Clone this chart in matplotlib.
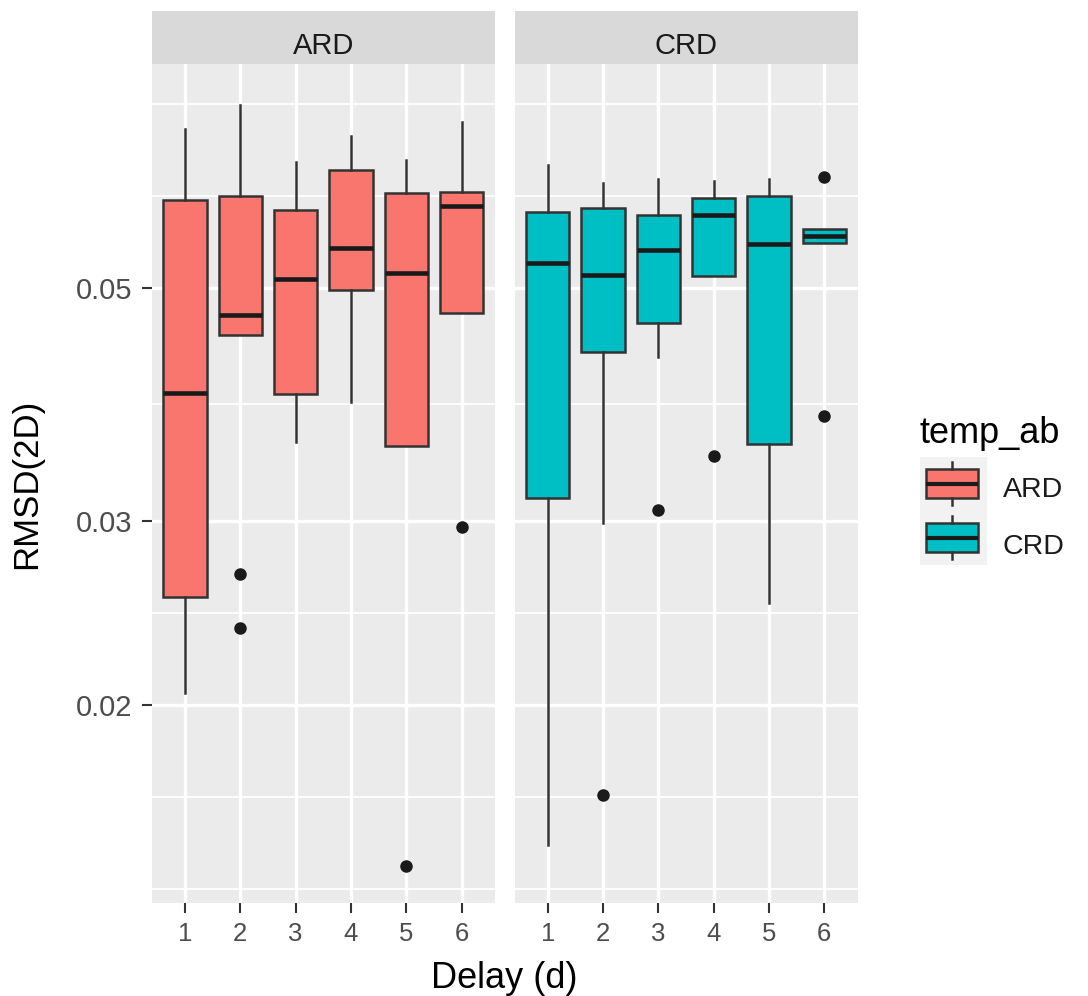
import numpy as np
import matplotlib.pyplot as plt
from matplotlib.patches import Rectangle
from matplotlib.ticker import FixedLocator, NullFormatter

plt.rcParams['font.family'] = ['Liberation Sans', 'DejaVu Sans']

delays = [1, 2, 3, 4, 5, 6]
panels = ['ARD', 'CRD']
fills = ['#F8766D', '#00BFC4']

# boxplot summaries (RMSD(2D), log axis)
ard_low = [0.02052, 0.04512, 0.03564, 0.03896, 0.03535, 0.04732]
ard_q1 = [0.02534, 0.04512, 0.03961, 0.04981, 0.03535, 0.04732]
ard_med = [0.03972, 0.04715, 0.05100, 0.05459, 0.05174, 0.05992]
ard_q3 = [0.06072, 0.06130, 0.05940, 0.06487, 0.06162, 0.06184]
ard_high = [0.07097, 0.07478, 0.06597, 0.06989, 0.06630, 0.07203]
ard_out = [[], [0.02665, 0.02367], [], [], [0.01403], [0.02960]]

crd_low = [0.01470, 0.02986, 0.04296, 0.05137, 0.02504, 0.05520]
crd_q1 = [0.03151, 0.04350, 0.04630, 0.05137, 0.03550, 0.05520]
crd_med = [0.05283, 0.05149, 0.05440, 0.05875, 0.05507, 0.05613]
crd_q3 = [0.05909, 0.05970, 0.05875, 0.06094, 0.06125, 0.05693]
crd_high = [0.06557, 0.06299, 0.06358, 0.06331, 0.06358, 0.05693]
crd_out = [[], [0.01641], [0.03071], [0.03458], [], [0.06391, 0.03779]]

y_major = [0.02, 0.03, 0.05]
y_labels = ['0.02', '0.03', '0.05']

W, H = 1088, 996
fig = plt.figure(figsize=(W / 100, H / 100), dpi=100)


def fx(px):
    return px / W


def fy(py):
    return 1 - py / H


# ggplot style minor breaks on the log scale
lb = np.log10(y_major)
step = lb[1] - lb[0]
ext = np.concatenate([[lb[0] - step], lb, [lb[-1] + step]])
minor = []
for a, b in zip(ext[:-1], ext[1:]):
    minor += [a, (a + b) / 2]
minor.append(ext[-1])
y_minor = [10 ** m for m in minor if not np.any(np.isclose(m, lb))]

panel_top, panel_bot = 64.3, 902.7
strip_top = 11
panel_x = [(151.8, 494.9), (514.5, 857.5)]

data = [(ard_low, ard_q1, ard_med, ard_q3, ard_high, ard_out),
        (crd_low, crd_q1, crd_med, crd_q3, crd_high, crd_out)]

edge = '#333333'
for i, name in enumerate(panels):
    x0, x1 = panel_x[i]
    ax = fig.add_axes([fx(x0), fy(panel_bot), (x1 - x0) / W, (panel_bot - panel_top) / H])
    ax.set_facecolor('#EBEBEB')
    ax.set_yscale('log')
    ax.set_ylim(0.012948, 0.081823)
    ax.set_xlim(0.4, 6.6)
    for s in ax.spines.values():
        s.set_visible(False)

    low, q1, med, q3, high, out = data[i]
    stats = []
    for k in range(len(delays)):
        stats.append(dict(med=med[k], q1=q1[k], q3=q3[k], whislo=low[k],
                          whishi=high[k], fliers=out[k]))
    ax.bxp(stats, positions=delays, widths=0.78, patch_artist=True, showcaps=False,
           boxprops=dict(facecolor=fills[i], edgecolor=edge, linewidth=1.8),
           medianprops=dict(color='#1A1A1A', linewidth=3.3, solid_capstyle='butt'),
           whiskerprops=dict(color=edge, linewidth=1.8),
           flierprops=dict(marker='o', markerfacecolor='#1A1A1A', markeredgecolor='#1A1A1A',
                           markersize=8))

    ax.set_xticks(delays)
    ax.set_xticklabels([str(d) for d in delays])
    ax.set_yticks(y_major)
    ax.set_yticklabels(y_labels)
    ax.yaxis.set_minor_locator(FixedLocator(y_minor))
    ax.yaxis.set_minor_formatter(NullFormatter())
    ax.set_axisbelow(True)
    ax.grid(which='major', color='white', linewidth=2.4)
    ax.grid(which='minor', axis='y', color='white', linewidth=1.3)
    ax.tick_params(which='minor', length=0)
    ax.tick_params(which='major', length=7, width=1.5, color=edge, pad=7,
                   labelcolor='#4D4D4D')
    ax.tick_params(axis='x', labelsize=18.5)
    ax.tick_params(axis='y', labelsize=21)
    if i == 1:
        ax.tick_params(axis='y', which='both', left=False, labelleft=False)

    sax = fig.add_axes([fx(x0), fy(panel_top), (x1 - x0) / W, (panel_top - strip_top) / H])
    sax.set_facecolor('#D9D9D9')
    sax.set_xticks([])
    sax.set_yticks([])
    for s in sax.spines.values():
        s.set_visible(False)
    sax.text(0.5, 0.2, name, ha='center', va='baseline', fontsize=21, color='#1A1A1A',
             transform=sax.transAxes)

fig.text(fx((panel_x[0][0] + panel_x[1][1]) / 2), fy(988), 'Delay (d)', ha='center',
         va='baseline', fontsize=26)
fig.text(fx(27), fy(483.5), 'RMSD(2D)', rotation=90, ha='center', va='center', fontsize=25)

# legend
fig.text(fx(920), fy(443), 'temp_ab', ha='left', va='baseline', fontsize=26)
lax = fig.add_axes([fx(920), fy(565), 67 / W, 108 / H])
lax.set_xlim(920, 987)
lax.set_ylim(565, 457)
lax.axis('off')
lax.add_patch(Rectangle((920, 457), 67, 108, facecolor='#F2F2F2', edgecolor='none'))
key_centres = [484, 538]
for name, col, yc, yt in zip(panels, fills, key_centres, [497, 554]):
    lax.add_patch(Rectangle((926, yc - 14.5), 52, 29, facecolor=col, edgecolor=edge, linewidth=1.8))
    lax.plot([926, 978], [yc, yc], color='#1A1A1A', linewidth=3.0, solid_capstyle='butt')
    lax.plot([952, 952], [yc - 14.5, yc - 22], color=edge, linewidth=1.8)
    lax.plot([952, 952], [yc + 14.5, yc + 21], color=edge, linewidth=1.8)
    fig.text(fx(1003), fy(yt), name, ha='left', va='baseline', fontsize=20.5, color='#1A1A1A')

fig.savefig('out.png', dpi=100)
